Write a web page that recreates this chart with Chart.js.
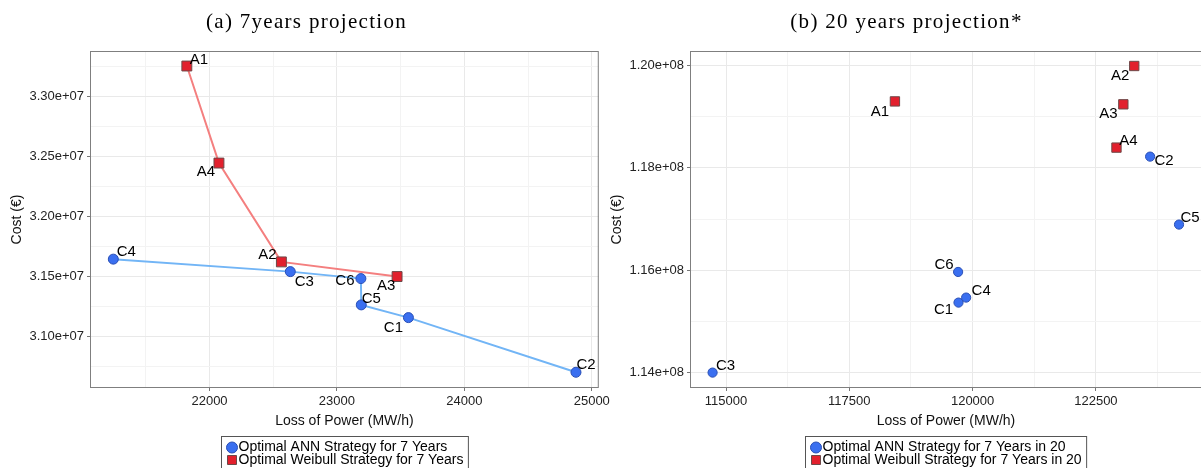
<!DOCTYPE html>
<html>
<head>
<meta charset="utf-8">
<script src="https://cdn.jsdelivr.net/npm/chart.js@4.4.1/dist/chart.umd.min.js"></script>
<style>
  html, body { margin: 0; padding: 0; background: #fff; overflow: hidden; }
  #wrap { position: relative; width: 1213px; height: 468px; }
  .panel { position: absolute; top: 0; width: 613px; height: 468px; }
</style>
</head>
<body>
<div id="wrap">
  <div class="panel" style="left:0"><canvas id="chart7"></canvas></div>
  <div class="panel" style="left:600px"><canvas id="chart20"></canvas></div>
</div>
<script>
// (a) 7 years projection
const annNames7 = ['C4', 'C3', 'C6', 'C5', 'C1', 'C2'];
const annLoss7 = [21245, 22634, 23188, 23191, 23561, 24876];
const annCost7 = [31642000, 31538000, 31480000, 31261000, 31155000, 30700000];
const weiNames7 = ['A1', 'A4', 'A2', 'A3'];
const weiLoss7 = [21822, 22074, 22564, 23472];
const weiCost7 = [33250000, 32442000, 31619000, 31497000];
const xTicks7 = [22000, 23000, 24000, 25000];
const yTicks7 = [31000000, 31500000, 32000000, 32500000, 33000000];

// (b) 20 years projection
const annNames20 = ['C1', 'C2', 'C3', 'C4', 'C5', 'C6'];
const annLoss20 = [119714, 123599, 114728, 119869, 124185, 119706];
const annCost20 = [115368000, 118221000, 114000000, 115466000, 116893000, 115967000];
const weiNames20 = ['A1', 'A2', 'A3', 'A4'];
const weiLoss20 = [118425, 123277, 123056, 122917];
const weiCost20 = [119300000, 119992000, 119243000, 118397000];
const xTicks20 = [115000, 117500, 120000, 122500];
const yTicks20 = [114000000, 116000000, 118000000, 120000000];

const SANS = '"Liberation Sans", Arial, sans-serif';
const fmtExp = v => v.toExponential(2).replace(/e\+(\d)$/, 'e+0$1');
const pts = (xs, ys) => xs.map((x, i) => ({ x: x, y: ys[i] }));

// major ticks from the label list, minor ones half way between
function gridTicks(labels, scale) {
  const step = labels[1] - labels[0];
  const out = [{ value: labels[0] - step / 2, lab: false }];
  labels.forEach(v => {
    out.push({ value: v, lab: true });
    out.push({ value: v + step / 2, lab: false });
  });
  return out.filter(t => t.value >= scale.min && t.value <= scale.max);
}

function axes(xr, yr, xLabels, yLabels) {
  const tickFont = { family: SANS, size: 13 };
  const grid = {
    color: c => (c.tick && c.tick.lab) ? '#e9e9e9' : '#f3f3f3',
    tickColor: c => (c.tick && c.tick.lab) ? '#777' : 'rgba(0,0,0,0)',
    tickLength: 3,
    lineWidth: 1
  };
  return {
    x: {
      type: 'linear', position: 'bottom', min: xr[0], max: xr[1],
      afterBuildTicks: s => { s.ticks = gridTicks(xLabels, s); },
      afterFit: s => { s.height = 45; },
      ticks: { autoSkip: false, maxRotation: 0, padding: 3, color: '#222', font: tickFont,
        callback: (v, i, t) => t[i].lab ? String(v) : '' },
      grid: grid,
      border: { display: false },
      title: { display: true, text: 'Loss of Power (MW/h)', color: '#111',
        font: { family: SANS, size: 14 }, padding: { top: 0, bottom: 3 } }
    },
    y: {
      type: 'linear', min: yr[0], max: yr[1],
      afterBuildTicks: s => { s.ticks = gridTicks(yLabels, s); },
      afterFit: s => { s.width = 90; },
      ticks: { autoSkip: false, padding: 3, color: '#222', font: tickFont,
        callback: (v, i, t) => t[i].lab ? fmtExp(v) : '' },
      grid: grid,
      border: { display: false },
      title: { display: true, text: 'Cost (€)', color: '#111',
        font: { family: SANS, size: 14 }, padding: { top: 9, bottom: 0 } }
    }
  };
}

// panel border, title and boxed legend
const panelDeco = {
  id: 'panelDeco',
  afterDraw(chart, args, opts) {
    const ctx = chart.ctx;
    const a = chart.chartArea;
    ctx.save();
    ctx.strokeStyle = '#7f7f7f';
    ctx.lineWidth = 1;
    ctx.strokeRect(a.left + 0.5, a.top + 0.5, a.right - a.left - 1, a.bottom - a.top - 1);

    ctx.fillStyle = '#000';
    ctx.font = '21px "Liberation Serif", "DejaVu Serif", serif';
    ctx.letterSpacing = '1.3px';
    ctx.textAlign = 'center';
    ctx.textBaseline = 'middle';
    ctx.fillText(opts.title, chart.width / 2, 22);
    ctx.letterSpacing = '0px';

    const sets = chart.data.datasets;
    ctx.font = '14px ' + SANS;
    const w = Math.max(...sets.map(d => ctx.measureText(d.label).width)) + 22;
    const x0 = Math.round((a.left + a.right) / 2 - w / 2) + 0.5;
    const y0 = a.bottom + 48.5;
    ctx.strokeStyle = '#555';
    ctx.strokeRect(x0, y0, w, 34);
    ctx.textAlign = 'left';
    sets.forEach((d, i) => {
      const y = y0 + 11 + i * 12.5;
      ctx.fillStyle = d.backgroundColor;
      ctx.strokeStyle = d.pointBorderColor;
      ctx.beginPath();
      if (d.pointStyle === 'rect') ctx.rect(x0 + 6, y - 4.5, 9, 9);
      else ctx.arc(x0 + 10.5, y, 5.5, 0, Math.PI * 2);
      ctx.fill();
      ctx.stroke();
      ctx.fillStyle = '#000';
      ctx.fillText(d.label, x0 + 17, y);
    });
    ctx.restore();
  }
};

// text labels next to each point
const pointNames = {
  id: 'pointNames',
  afterDatasetsDraw(chart, args, opts) {
    const ctx = chart.ctx;
    ctx.save();
    ctx.font = '15px ' + SANS;
    ctx.fillStyle = '#000';
    ctx.textAlign = 'center';
    ctx.textBaseline = 'middle';
    chart.data.datasets.forEach((ds, di) => {
      chart.getDatasetMeta(di).data.forEach((el, i) => {
        const name = ds.names[i];
        const off = opts.offsets[name] || [0, 0];
        ctx.fillText(name, el.x + off[0], el.y + off[1]);
      });
    });
    ctx.restore();
  }
};

function makeChart(id, cfg) {
  return new Chart(document.getElementById(id), {
    type: 'scatter',
    data: {
      datasets: [
        {
          label: cfg.annLabel,
          names: cfg.annNames,
          data: cfg.ann,
          showLine: cfg.lines,
          borderColor: '#72b5f6',
          borderWidth: 2,
          backgroundColor: '#3a6ff0',
          pointBackgroundColor: '#3a6ff0',
          pointBorderColor: '#2a4fb5',
          pointBorderWidth: 1,
          pointStyle: 'circle',
          pointRadius: cfg.circle
        },
        {
          label: cfg.weiLabel,
          names: cfg.weiNames,
          data: cfg.wei,
          showLine: cfg.lines,
          borderColor: '#f47f7f',
          borderWidth: 2,
          backgroundColor: '#e2202d',
          pointBackgroundColor: '#e2202d',
          pointBorderColor: '#6e4848',
          pointBorderWidth: 1,
          pointStyle: 'rect',
          pointRadius: cfg.square
        }
      ]
    },
    options: {
      responsive: true,
      maintainAspectRatio: false,
      animation: false,
      layout: { padding: { top: 51, right: 11, bottom: 35, left: 0 } },
      scales: axes(cfg.xr, cfg.yr, cfg.xTicks, cfg.yTicks),
      plugins: {
        legend: { display: false },
        tooltip: { enabled: false },
        panelDeco: { title: cfg.title },
        pointNames: { offsets: cfg.offsets }
      }
    },
    plugins: [panelDeco, pointNames]
  });
}

makeChart('chart7', {
  title: '(a) 7years projection',
  annLabel: 'Optimal ANN Strategy for 7 Years',
  weiLabel: 'Optimal Weibull Strategy for 7 Years',
  annNames: annNames7, weiNames: weiNames7,
  ann: pts(annLoss7, annCost7), wei: pts(weiLoss7, weiCost7),
  xTicks: xTicks7, yTicks: yTicks7,
  xr: [21062, 25055], yr: [30569000, 33375000],
  lines: true, circle: 5, square: 7,
  offsets: { C4: [13, -7], C3: [14, 10], C6: [-16, 2], C5: [10, -6], C1: [-15, 10], C2: [10, -7],
             A1: [12, -6], A4: [-13, 9], A2: [-14, -7], A3: [-11, 9] }
});

makeChart('chart20', {
  title: '(b) 20 years projection*',
  annLabel: 'Optimal ANN Strategy for 7 Years in 20',
  weiLabel: 'Optimal Weibull Strategy for 7 Years in 20',
  annNames: annNames20, weiNames: weiNames20,
  ann: pts(annLoss20, annCost20), wei: pts(weiLoss20, weiCost20),
  xTicks: xTicks20, yTicks: yTicks20,
  xr: [114270, 124651], yr: [113699000, 120285000],
  lines: false, circle: 4.6, square: 6.6,
  offsets: { A1: [-15, 10], A2: [-14, 10], A3: [-15, 10], A4: [12, -7], C2: [14, 4], C5: [11, -7],
             C6: [-14, -7], C4: [15, -7], C1: [-15, 7], C3: [13, -7] }
});
</script>
</body>
</html>
